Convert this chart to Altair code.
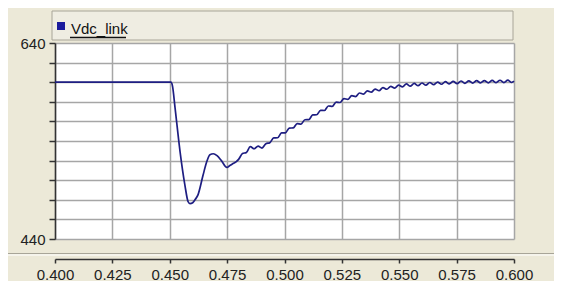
import altair as alt
import pandas as pd

# ---- data ----
t = [0.4000, 0.4505, 0.4512, 0.4523, 0.4545, 0.4566, 0.4580, 0.4588, 0.4600, 0.4610,
     0.4623, 0.4645, 0.4660, 0.4675, 0.4690, 0.4706, 0.4725, 0.4749, 0.4762, 0.4776,
     0.4790,
     0.4800, 0.4817, 0.4834, 0.4851, 0.4868, 0.4885, 0.4902, 0.4919, 0.4936, 0.4953,
     0.4970, 0.4987, 0.5004, 0.5021, 0.5038, 0.5055, 0.5072, 0.5089, 0.5106, 0.5123,
     0.5140, 0.5157, 0.5174, 0.5191, 0.5208, 0.5225, 0.5242, 0.5259, 0.5276, 0.5293,
     0.5310, 0.5327, 0.5344, 0.5361, 0.5378, 0.5395, 0.5412, 0.5429, 0.5446, 0.5463,
     0.5480, 0.5497, 0.5514, 0.5531, 0.5548, 0.5565, 0.5582, 0.5599, 0.5616, 0.5633,
     0.5650, 0.5667, 0.5684, 0.5701, 0.5718, 0.5735, 0.5752, 0.5769, 0.5786, 0.5803,
     0.5820, 0.5837, 0.5854, 0.5871, 0.5888, 0.5905, 0.5922, 0.5939, 0.5956, 0.5973,
     0.5990, 0.6000]
v = [600.0, 600.0, 596.0, 574.0, 529.0, 495.0, 478.0, 476.0, 477.0, 480.0,
     485.0, 505.0, 518.0, 526.0, 527.0, 525.0, 520.0, 513.0, 515.0, 517.0,
     519.0,
     521.3, 527.2, 528.3, 534.2, 532.1, 534.8, 532.8, 537.2, 538.3, 543.2,
     543.3, 548.2, 548.3, 553.2, 553.3, 557.7, 557.3, 561.7, 561.8, 566.7,
     566.8, 571.2, 571.1, 575.7, 575.3, 579.7, 579.3, 583.2, 582.4, 586.2,
     585.3, 589.0, 587.8, 591.2, 589.8, 593.0, 591.3, 594.5, 592.8, 595.8,
     594.0, 597.0, 595.2, 598.2, 596.0, 598.7, 596.5, 599.2, 597.0, 599.7,
     597.5, 600.1, 597.9, 600.5, 598.3, 600.8, 598.6, 601.2, 598.9, 601.4,
     599.1, 601.6, 599.3, 601.7, 599.4, 601.9, 599.5, 602.0, 599.6, 602.1,
     599.7, 601.0]
x_ticks = [0.400, 0.425, 0.450, 0.475, 0.500, 0.525, 0.550, 0.575, 0.600]
y_ticks = [440, 460, 480, 500, 520, 540, 560, 580, 600, 620, 640]
series_name = ["Vdc_link"]

df = pd.DataFrame({"t": t, "v": v})
legend_df = pd.DataFrame({"name": series_name})

FONT = "Liberation Sans, Arial, sans-serif"
NAVY = "#1e1e82"

x_enc = alt.X(
    "t:Q",
    scale=alt.Scale(domain=[0.4, 0.6], nice=False, zero=False),
    axis=alt.Axis(values=x_ticks, format=".3f", title=None, offset=20,
                  tickSize=4, tickWidth=1.5, tickColor="#333",
                  domainColor="#333", domainWidth=1.5,
                  labelPadding=4, labelFontSize=15, labelFont=FONT, labelColor="#222",
                  grid=True, gridColor="#a6a6a6", gridWidth=1.5,
                  labelFlush=False),
)
y_enc = alt.Y(
    "v:Q",
    scale=alt.Scale(domain=[440, 640], nice=False, zero=False),
    axis=alt.Axis(values=y_ticks, title=None,
                  labelExpr="datum.value == 440 || datum.value == 640 ? datum.label : ''",
                  tickSize=6, tickWidth=1.5, tickColor="#333",
                  domainColor="#333", domainWidth=1.5,
                  labelPadding=4, labelFontSize=15, labelFont=FONT, labelColor="#222",
                  grid=True, gridColor="#a6a6a6", gridWidth=1.5),
)

line = alt.Chart(df).mark_line(color=NAVY, strokeWidth=1.7, interpolate="monotone").encode(
    x=x_enc, y=y_enc)

legend_box = alt.Chart(legend_df).mark_rect(
    fill="#efede2", stroke="#a8a598", strokeWidth=1
).encode(x=alt.value(-3), x2=alt.value(458), y=alt.value(-32), y2=alt.value(-3))

legend_sq = alt.Chart(legend_df).mark_rect(fill="#1a1a9c").encode(
    x=alt.value(2), x2=alt.value(10), y=alt.value(-21), y2=alt.value(-13))

legend_txt = alt.Chart(legend_df).mark_text(
    align="left", baseline="alphabetic", font=FONT, fontSize=15, color="#111"
).encode(x=alt.value(16), y=alt.value(-9), text="name:N")

underline = alt.Chart(legend_df).mark_rule(color="#111", strokeWidth=1.5).encode(
    x=alt.value(15), x2=alt.value(71), y=alt.value(-5.5))

sep1 = alt.Chart(legend_df).mark_rule(color="#a8a598", strokeWidth=1).encode(
    x=alt.value(-47), x2=alt.value(499), y=alt.value(210.5))
sep2 = alt.Chart(legend_df).mark_rule(color="#ffffff", strokeWidth=1).encode(
    x=alt.value(-47), x2=alt.value(499), y=alt.value(212))

chart = alt.layer(line, legend_box, legend_sq, legend_txt, underline, sep1, sep2).properties(
    width=459, height=196,
    autosize=alt.AutoSizeParams(type="none"),
    padding={"left": 47, "top": 35, "right": 40, "bottom": 42},
    background="#ECE9D8",
).configure_view(fill="white", strokeWidth=0)

chart.save("out.html", embed_options={"renderer": "svg", "actions": False})
